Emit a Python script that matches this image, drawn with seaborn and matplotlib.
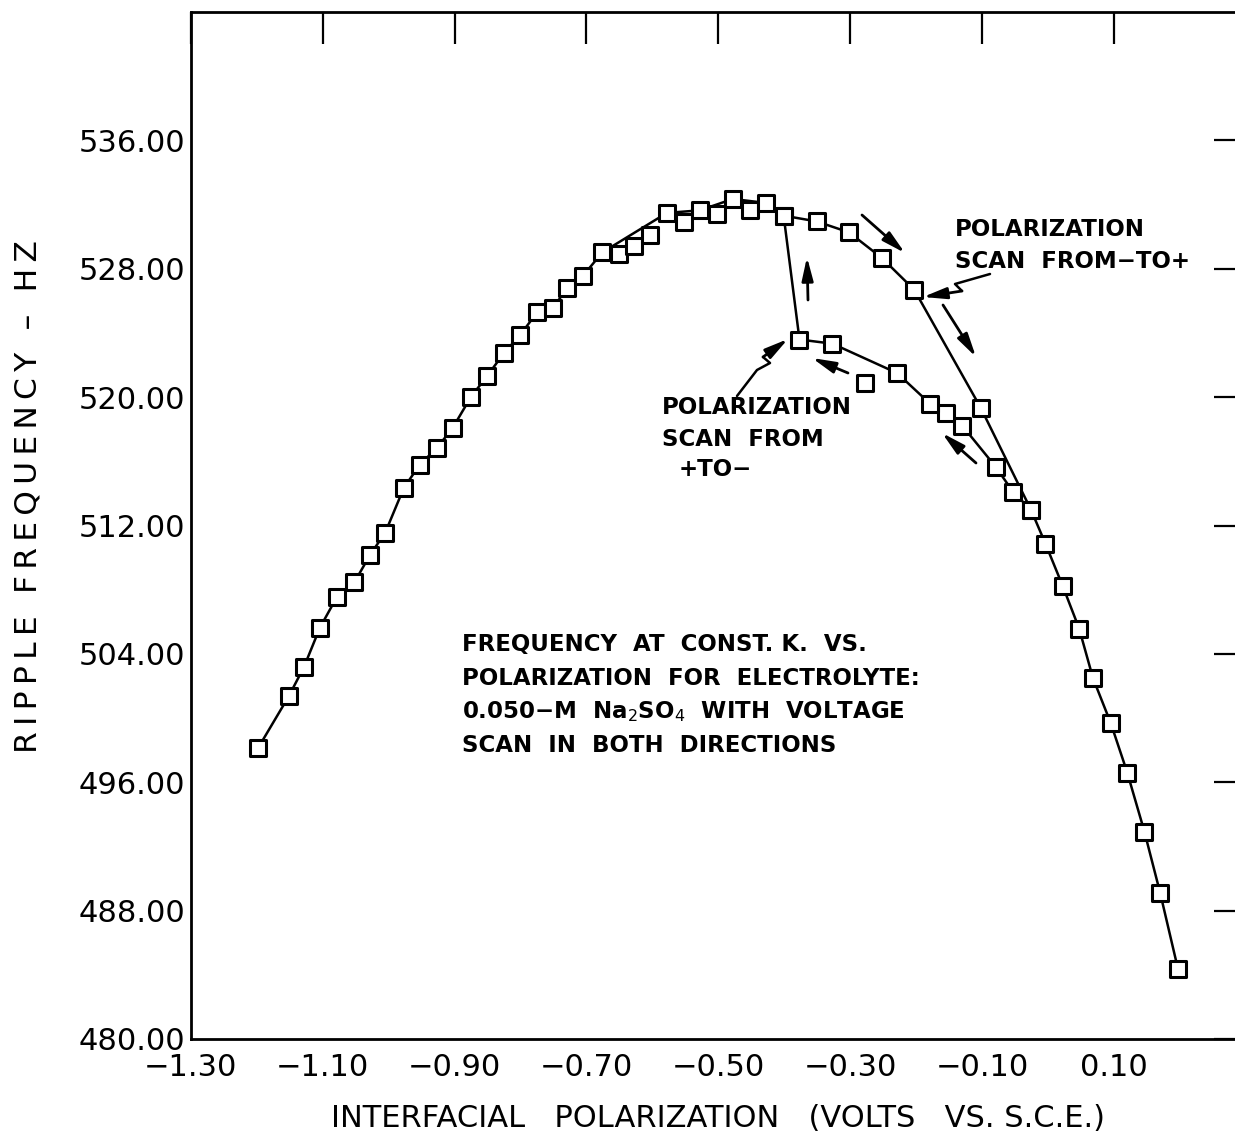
import matplotlib
matplotlib.use("Agg")
import matplotlib.pyplot as plt
import numpy as np
import pandas as pd
import seaborn as sns
from matplotlib.lines import Line2D

# ---------------- data ----------------
# polarization scan from - to +  (volts vs S.C.E., ripple frequency Hz)
scan_up_x = [-1.198, -1.151, -1.128, -1.104, -1.078, -1.052, -1.028, -1.005,
             -0.977, -0.953, -0.927, -0.903, -0.875, -0.851, -0.825, -0.800,
             -0.775, -0.751, -0.729, -0.705, -0.676, -0.651, -0.628, -0.603,
             -0.578, -0.552, -0.528, -0.502, -0.478, -0.452, -0.428, -0.401,
             -0.351, -0.302, -0.252, -0.203, -0.102, -0.026, -0.004, 0.022,
             0.047, 0.068, 0.095, 0.120, 0.146, 0.170, 0.197]
scan_up_y = [498.12, 501.38, 503.21, 505.64, 507.57, 508.45, 510.17, 511.56,
             514.33, 515.78, 516.82, 518.07, 520.02, 521.29, 522.75, 523.89,
             525.28, 525.55, 526.80, 527.57, 529.02, 528.94, 529.44, 530.12,
             531.48, 530.89, 531.64, 531.43, 532.35, 531.64, 532.10, 531.31,
             530.95, 530.27, 528.67, 526.69, 519.32, 512.98, 510.86, 508.24,
             505.58, 502.49, 499.68, 496.60, 492.92, 489.08, 484.34]
# points of the - to + scan that lie off the drawn smooth curve
scan_up_offcurve = [21, 22, 23, 25, 27, 29]

# polarization scan from + to -
scan_down_x = [-0.026, -0.053, -0.079, -0.130, -0.155, -0.179, -0.229,
               -0.278, -0.327, -0.377, -0.401]
scan_down_y = [512.98, 514.08, 515.63, 518.21, 519.04, 519.59, 521.50,
               520.91, 523.33, 523.59, 531.31]
scan_down_offcurve = [7]

xtick_values = [-1.30, -1.10, -0.90, -0.70, -0.50, -0.30, -0.10, 0.10]
xtick_labels = ["\u22121.30", "\u22121.10", "\u22120.90", "\u22120.70",
                "\u22120.50", "\u22120.30", "\u22120.10", "0.10"]
ytick_values = [480, 488, 496, 504, 512, 520, 528, 536]
ytick_labels = ["480.00", "488.00", "496.00", "504.00", "512.00", "520.00",
                "528.00", "536.00"]

x_label = "INTERFACIAL   POLARIZATION   (VOLTS   VS. S.C.E.)"
y_label = "RIPPLE FREQUENCY \u2013 HZ"

# ---------------- figure ----------------
sns.set_theme(style="white")
plt.rcParams["font.family"] = ["DejaVu Sans"]
plt.rcParams["axes.unicode_minus"] = True

W, H = 1235, 1141
fig = plt.figure(figsize=(W / 100, H / 100), dpi=100)
fig.patch.set_facecolor("white")
ax = fig.add_axes([190.7 / W, (H - 1039) / H, (1246 - 190.7) / W, (1039 - 12) / H])
ax.set_facecolor("white")

up = pd.DataFrame({"x": scan_up_x, "y": scan_up_y})
down = pd.DataFrame({"x": scan_down_x, "y": scan_down_y})

sns.lineplot(data=up.drop(index=scan_up_offcurve), x="x", y="y", sort=False,
             estimator=None, color="black", lw=1.8, ax=ax, zorder=2)
sns.lineplot(data=down.drop(index=scan_down_offcurve), x="x", y="y", sort=False,
             estimator=None, color="black", lw=1.8, ax=ax, zorder=2)
sns.scatterplot(data=pd.concat([up, down], ignore_index=True), x="x", y="y",
                marker="s", s=120, color="white", edgecolor="black",
                linewidth=2.2, ax=ax, zorder=3, legend=False)

ax.set_xlim(-1.30, 0.30)
ax.set_ylim(480, 544)
ax.set_xticks(xtick_values)
ax.set_xticklabels(xtick_labels)
ax.set_yticks(ytick_values)
ax.set_yticklabels(ytick_labels)
ax.tick_params(axis="both", direction="in", length=23, width=1.6, color="black",
               labelsize=22, labelcolor="black", top=True, right=True,
               labeltop=False, labelright=False)
ax.tick_params(axis="y", pad=4)
ax.tick_params(axis="x", pad=10)
for sp in ax.spines.values():
    sp.set_visible(True)
    sp.set_linewidth(2)
    sp.set_color("black")

ax.set_xlabel(x_label, fontsize=22, color="black", va="center")
ax.xaxis.set_label_coords(0.5, -0.077)
spaced_ylabel = "\u2009".join(y_label)
ax.set_ylabel(spaced_ylabel, fontsize=22.5, color="black", va="center")
ax.yaxis.set_label_coords(-0.154, 0.528)


def ff(x, y):
    return (x / W, 1 - y / H)


txt_kw = dict(fontsize=16.5, fontweight="bold", color="black", va="center", ha="left")
# main caption
cap_lines = ["FREQUENCY  AT  CONST. K.  VS.",
             "POLARIZATION  FOR  ELECTROLYTE:",
             "0.050\u2212M  Na$_2$SO$_4$  WITH  VOLTAGE",
             "SCAN  IN  BOTH  DIRECTIONS"]
for i, line in enumerate(cap_lines):
    fig.text(*ff(462, 645 + i * 33.5), line, **txt_kw)

fig.text(*ff(955, 229), "POLARIZATION", **txt_kw)
fig.text(*ff(955, 261), "SCAN  FROM\u2212TO+", **txt_kw)
fig.text(*ff(662, 407), "POLARIZATION", **txt_kw)
fig.text(*ff(662, 439), "SCAN  FROM", **txt_kw)
fig.text(*ff(679, 470), "+TO\u2212", **txt_kw)

# direction arrows
arrow_kw = dict(arrowstyle="-|>,head_length=0.7,head_width=0.17", lw=2,
                color="black", shrinkA=0, shrinkB=0, mutation_scale=20)
for (x0, y0, x1, y1) in [(862, 215, 905, 253), (943, 305, 976, 357),
                         (808, 300, 807, 257), (848, 373, 812, 358),
                         (976, 463, 942, 433)]:
    ax.annotate("", xy=ff(x1, y1), xytext=ff(x0, y0), xycoords="figure fraction",
                textcoords="figure fraction", arrowprops=arrow_kw)

# squiggly leaders
for pts, tip in [([(990, 274), (955, 284), (962, 291)], (923, 297)),
                 ([(737, 396), (757, 370), (770, 363), (763, 357)], (788, 339))]:
    xs = [p[0] / W for p in pts]
    ys = [1 - p[1] / H for p in pts]
    fig.add_artist(Line2D(xs, ys, transform=fig.transFigure, color="black", lw=1.8))
    ax.annotate("", xy=ff(*tip), xytext=ff(*pts[-1]), xycoords="figure fraction",
                textcoords="figure fraction", arrowprops=arrow_kw)

fig.savefig("out.png", dpi=100, facecolor="white")
